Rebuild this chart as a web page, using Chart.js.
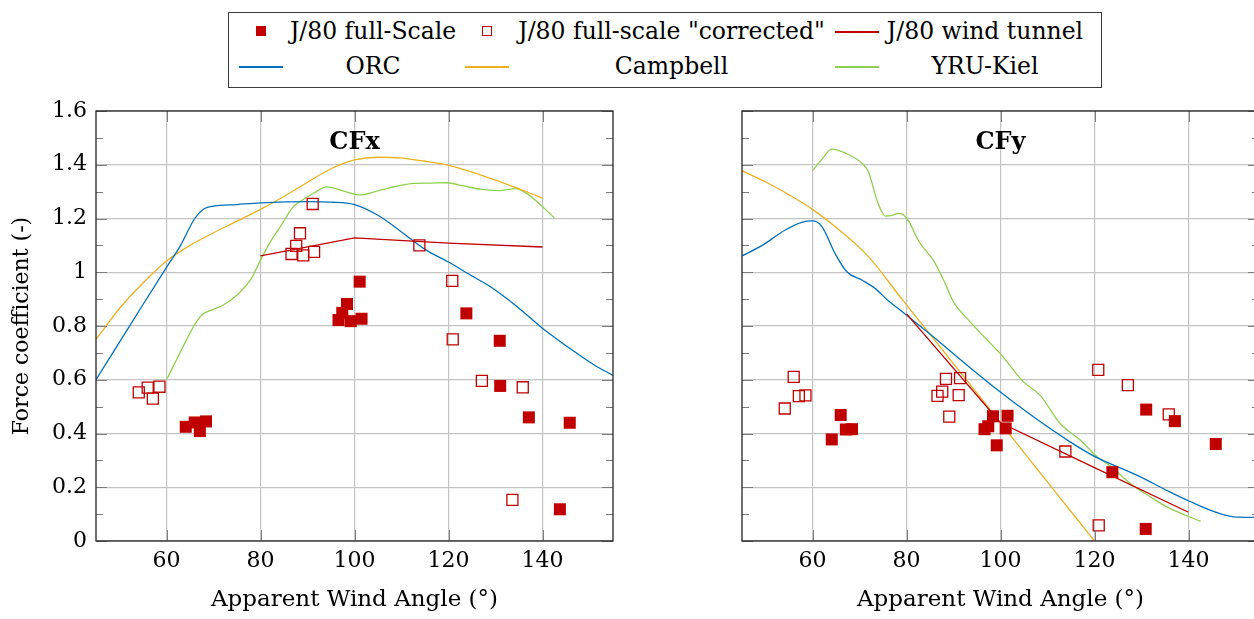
<!DOCTYPE html>
<html>
<head>
<meta charset="utf-8">
<script src="https://cdn.jsdelivr.net/npm/chart.js@4.4.1/dist/chart.umd.min.js"></script>
<style>
  html, body { margin: 0; padding: 0; background: #fff; overflow: hidden; width: 1254px; height: 619px; }
  body { position: relative; font-family: "DejaVu Serif", serif; }
  #cfx { position: absolute; left: 0; top: 100px; }
  #cfy { position: absolute; left: 700px; top: 100px; }
  #legend { position: absolute; left: 228px; top: 12px; width: 872px; height: 74px; border: 1px solid #3a3a3a; }
  .lg { position: absolute; font-size: 23.5px; line-height: 28px; height: 28px; text-align: center; white-space: nowrap; color: #000; }
  .sym { position: absolute; }
</style>
</head>
<body>
<div id="legend"></div>
<canvas id="cfx" width="640" height="519"></canvas>
<canvas id="cfy" width="580" height="519"></canvas>
<script>
// valeurs (angle de vent apparent en degrés)
const awaFull = [64.1, 66.0, 67.1, 68.4, 96.6, 97.4, 98.4, 99.2, 101.1, 101.5, 123.8, 130.9, 131.0, 137.1, 143.7, 145.8];
const cfxFull = [0.425, 0.441, 0.409, 0.445, 0.822, 0.849, 0.882, 0.818, 0.965, 0.827, 0.847, 0.745, 0.577, 0.460, 0.118, 0.440];
const cfyFull = [0.378, 0.469, 0.415, 0.416, 0.416, 0.427, 0.464, 0.356, 0.419, 0.466, 0.256, 0.045, 0.489, 0.446, null, 0.361];

const awaCorr = [54.1, 56.0, 57.1, 58.5, 86.6, 87.6, 88.4, 89.1, 91.1, 91.4, 113.8, 120.8, 120.9, 127.1, 133.6, 135.8];
const cfxCorr = [0.553, 0.571, 0.530, 0.574, 1.068, 1.098, 1.145, 1.063, 1.254, 1.076, 1.100, 0.968, 0.750, 0.596, 0.153, 0.572];
const cfyCorr = [0.493, 0.611, 0.539, 0.542, 0.540, 0.556, 0.603, 0.463, 0.543, 0.606, 0.333, 0.637, 0.058, 0.580, null, 0.471];

const awaTunnel = [80, 100, 120, 140];
const cfxTunnel = [1.061, 1.128, 1.108, 1.094];
const cfyTunnel = [0.845, 0.440, 0.273, 0.107];

const awaOrcX = [45, 50, 55, 60, 63, 66, 68, 70, 75, 80, 85, 90, 95, 100, 105, 110, 115, 120, 125, 129, 134.6, 140, 147, 151, 155];
const cfxOrc = [0.600, 0.740, 0.880, 1.018, 1.100, 1.200, 1.236, 1.246, 1.252, 1.258, 1.262, 1.263, 1.261, 1.252, 1.212, 1.150, 1.085, 1.038, 0.986, 0.945, 0.872, 0.792, 0.702, 0.655, 0.616];
const awaOrcY = [45, 49.2, 54.2, 57.7, 60, 62, 64.8, 67.3, 70.5, 73.3, 76, 78.7, 85.7, 92.9, 99.9, 107, 114.8, 120.2, 129, 136.1, 140.2, 146.7, 150.3, 155];
const cfyOrc = [1.061, 1.099, 1.157, 1.186, 1.191, 1.170, 1.070, 1.002, 0.971, 0.940, 0.896, 0.859, 0.760, 0.654, 0.555, 0.462, 0.369, 0.313, 0.245, 0.182, 0.148, 0.102, 0.089, 0.088];

const awaCampX = [45, 50, 55, 60, 65, 70, 75, 80, 85, 90, 95, 100, 105, 110, 115, 120, 125, 130, 135, 140];
const cfxCamp = [0.750, 0.865, 0.960, 1.042, 1.100, 1.147, 1.190, 1.234, 1.282, 1.335, 1.385, 1.418, 1.428, 1.425, 1.413, 1.398, 1.373, 1.343, 1.310, 1.276];
const awaCampY = [45, 50.6, 55, 60, 64.8, 71.9, 79.2, 85.7, 92.9, 99.9, 107, 117, 120];
const cfyCamp = [1.378, 1.331, 1.288, 1.234, 1.170, 1.058, 0.896, 0.754, 0.596, 0.442, 0.285, 0.066, 0];

const awaYruX = [60, 62, 64, 66, 67.5, 70, 72, 75, 78, 80, 82, 84.2, 87, 89, 91.3, 94.1, 97, 101.2, 105.5, 109, 112.6, 116, 119.7, 123, 126.8, 130.7, 134.3, 137.2, 142.5];
const cfxYru = [0.600, 0.670, 0.740, 0.805, 0.841, 0.862, 0.877, 0.915, 0.975, 1.045, 1.110, 1.169, 1.244, 1.270, 1.294, 1.318, 1.306, 1.288, 1.306, 1.320, 1.331, 1.332, 1.333, 1.322, 1.309, 1.304, 1.311, 1.286, 1.203];
const awaYruY = [60, 62, 64.1, 67, 70.5, 71.9, 73.7, 75.5, 77, 78.3, 80.1, 82.8, 85.7, 87.9, 90, 93.2, 96.5, 99.9, 104.9, 108.4, 112.7, 117, 120.2, 124, 127.6, 131.9, 135.4, 142.6];
const cfyYru = [1.378, 1.420, 1.458, 1.443, 1.406, 1.374, 1.269, 1.209, 1.212, 1.219, 1.200, 1.110, 1.045, 0.971, 0.890, 0.822, 0.760, 0.698, 0.592, 0.543, 0.437, 0.375, 0.319, 0.270, 0.214, 0.164, 0.127, 0.073];

const xTicks = [60, 80, 100, 120, 140];
const yTicks = [0, 0.2, 0.4, 0.6, 0.8, 1, 1.2, 1.4, 1.6];
const yTickLabels = ['0', '0.2', '0.4', '0.6', '0.8', '1', '1.2', '1.4', '1.6'];
const yMinorTicks = [0.1, 0.3, 0.5, 0.7, 0.9, 1.1, 1.3, 1.5];

const RED = '#c00000';
const BLUE = '#0072bd';
const ORANGE = '#edb120';
const GREEN = '#8fd14f';
const FONT = '"DejaVu Serif", serif';

function pts(xs, ys) {
    return xs.map((x, i) => ({ x: x, y: ys[i] }));
}

// cadre, petites graduations vers l'intérieur et titre du panneau
const panelDecor = {
    id: 'panelDecor',
    afterDraw(chart, args, opts) {
        const { ctx, chartArea: a, scales: { x, y } } = chart;
        ctx.save();
        ctx.lineWidth = 1;
        ctx.strokeStyle = '#7d7d7d';
        const seg = (x1, y1, x2, y2) => { ctx.beginPath(); ctx.moveTo(x1, y1); ctx.lineTo(x2, y2); ctx.stroke(); };
        xTicks.forEach(v => {
            const px = Math.round(x.getPixelForValue(v)) + 0.5;
            seg(px, a.bottom, px, a.bottom - 11);
            seg(px, a.top, px, a.top + 11);
        });
        yTicks.forEach(v => {
            const py = Math.round(y.getPixelForValue(v)) + 0.5;
            seg(a.left, py, a.left + 11, py);
            seg(a.right, py, a.right - 11, py);
        });
        yMinorTicks.forEach(v => {
            const py = Math.round(y.getPixelForValue(v)) + 0.5;
            seg(a.left, py, a.left + 7, py);
            seg(a.right, py, a.right - 7, py);
        });
        ctx.strokeStyle = '#262626';
        ctx.lineWidth = 1.3;
        ctx.strokeRect(a.left, a.top, a.right - a.left, a.bottom - a.top);
        ctx.font = 'bold 24px "DejaVu Serif"';
        ctx.fillStyle = '#000';
        ctx.textAlign = 'center';
        ctx.textBaseline = 'middle';
        ctx.fillText(opts.text, (a.left + a.right) / 2, a.top + 32);
        ctx.restore();
    }
};

function makeDatasets(full, corr, tunnel, orc, camp, yru) {
    const curve = (label, data, color) => ({
        label: label, data: data, showLine: true, borderColor: color, backgroundColor: color,
        borderWidth: 1.3, pointRadius: 0, cubicInterpolationMode: 'monotone'
    });
    return [
        { label: 'J/80 full-Scale', data: full, showLine: false, pointStyle: 'rect', pointRadius: 8.5,
          backgroundColor: RED, borderColor: RED, borderWidth: 0 },
        { label: 'J/80 full-scale "corrected"', data: corr, showLine: false, pointStyle: 'rect', pointRadius: 7.8,
          backgroundColor: 'rgba(0,0,0,0)', borderColor: RED, borderWidth: 1.3 },
        { label: 'J/80 wind tunnel', data: tunnel, showLine: true, borderColor: RED, backgroundColor: RED,
          borderWidth: 1.3, pointRadius: 0, tension: 0 },
        curve('ORC', orc, BLUE),
        curve('Campbell', camp, ORANGE),
        curve('YRU-Kiel', yru, GREEN)
    ];
}

function makeOptions(title, showY, padRight) {
    const gridStyle = { color: '#c4c4c4', lineWidth: 1.2, drawTicks: false };
    const font = { family: FONT, size: 22 };
    return {
        responsive: false,
        animation: false,
        devicePixelRatio: 1,
        layout: { padding: { top: 11, right: padRight, left: 0, bottom: 0 } },
        plugins: {
            legend: { display: false },
            tooltip: { enabled: false },
            panelDecor: { text: title }
        },
        scales: {
            x: {
                type: 'linear', min: 45, max: 155,
                afterBuildTicks: s => { s.ticks = xTicks.map(v => ({ value: v })); },
                afterFit: s => { s.height = 78; s.paddingLeft = 0; s.paddingRight = 0; },
                grid: gridStyle,
                border: { display: false },
                ticks: { padding: 7, maxRotation: 0, font: font, color: '#000', callback: v => String(v) },
                title: { display: true, text: 'Apparent Wind Angle (°)', font: { family: FONT, size: 23 }, color: '#000', padding: { top: 0, bottom: 5 } }
            },
            y: {
                type: 'linear', min: 0, max: 1.6,
                afterBuildTicks: s => { s.ticks = yTicks.map(v => ({ value: v })); },
                afterFit: s => { s.width = showY ? 96 : 42; s.paddingTop = 0; s.paddingBottom = 0; },
                grid: gridStyle,
                border: { display: false },
                ticks: { display: showY, padding: 9, font: font, color: '#000', callback: (v, i) => yTickLabels[i] },
                title: { display: showY, text: 'Force coefficient (-)', font: font, color: '#000', padding: { top: 9, bottom: 0 } }
            }
        }
    };
}

document.addEventListener('DOMContentLoaded', () => {
    new Chart(document.getElementById('cfx').getContext('2d'), {
        type: 'scatter',
        data: {
            datasets: makeDatasets(
                pts(awaFull, cfxFull), pts(awaCorr, cfxCorr), pts(awaTunnel, cfxTunnel),
                pts(awaOrcX, cfxOrc), pts(awaCampX, cfxCamp), pts(awaYruX, cfxYru))
        },
        options: makeOptions('CFx', true, 27),
        plugins: [panelDecor]
    });

    new Chart(document.getElementById('cfy').getContext('2d'), {
        type: 'scatter',
        data: {
            datasets: makeDatasets(
                pts(awaFull, cfyFull), pts(awaCorr, cfyCorr), pts(awaTunnel, cfyTunnel),
                pts(awaOrcY, cfyOrc), pts(awaCampY, cfyCamp), pts(awaYruY, cfyYru))
        },
        options: makeOptions('CFy', false, 21),
        plugins: [panelDecor]
    });

    // légende commune (tableau 2 x 3 comme sur la figure)
    const legend = document.getElementById('legend');
    const entries = [
        { kind: 'filled', text: 'J/80 full-Scale', sx: 32, col: [59, 229], row: 18 },
        { kind: 'open', text: 'J/80 full-scale "corrected"', sx: 258, col: [287, 598], row: 18 },
        { kind: 'line', color: RED, text: 'J/80 wind tunnel', sx: 628, col: [655, 857], row: 18 },
        { kind: 'line', color: BLUE, text: 'ORC', sx: 32, col: [59, 229], row: 53 },
        { kind: 'line', color: ORANGE, text: 'Campbell', sx: 258, col: [287, 598], row: 53 },
        { kind: 'line', color: GREEN, text: 'YRU-Kiel', sx: 628, col: [655, 857], row: 53 }
    ];
    entries.forEach(e => {
        const s = document.createElement('div');
        s.className = 'sym';
        if (e.kind === 'line') {
            s.style.left = (e.sx - 22) + 'px';
            s.style.top = e.row + 'px';
            s.style.width = '44px';
            s.style.height = '1.5px';
            s.style.background = e.color;
        } else {
            s.style.left = (e.sx - 5) + 'px';
            s.style.top = (e.row - 5) + 'px';
            s.style.width = '10px';
            s.style.height = '10px';
            s.style.boxSizing = 'border-box';
            if (e.kind === 'filled') s.style.background = RED;
            else s.style.border = '1.3px solid ' + RED;
        }
        legend.appendChild(s);
        const t = document.createElement('div');
        t.className = 'lg';
        t.textContent = e.text;
        t.style.left = (e.col[0] - 20) + 'px';
        t.style.width = (e.col[1] - e.col[0] + 40) + 'px';
        t.style.top = (e.row - 14) + 'px';
        legend.appendChild(t);
    });
});
</script>
</body>
</html>
